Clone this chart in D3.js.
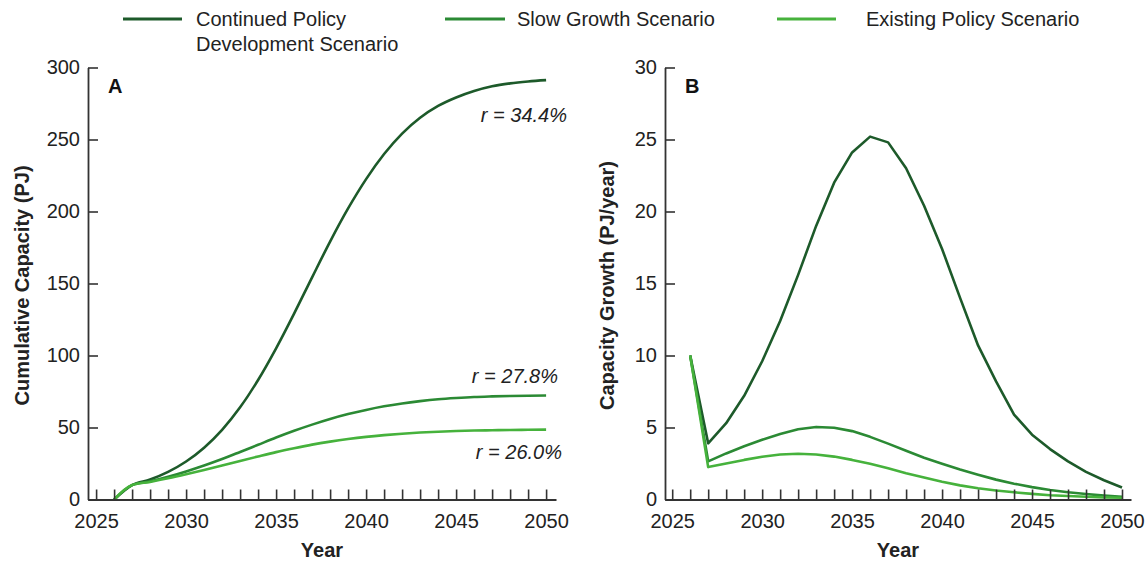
<!DOCTYPE html>
<html>
<head>
<meta charset="utf-8">
<script src="https://cdn.jsdelivr.net/npm/d3@7"></script>
<style>
  body { margin: 0; background: #fff; }
  svg { display: block; font-family: "Liberation Sans", Arial, Helvetica, sans-serif; }
</style>
</head>
<body>
<svg id="chart" width="1146" height="562"></svg>
<script>
// ---- data ----
const years = [2026, 2027, 2028, 2029, 2030, 2031, 2032, 2033, 2034, 2035, 2036, 2037, 2038,
               2039, 2040, 2041, 2042, 2043, 2044, 2045, 2046, 2047, 2048, 2049, 2050];

// Panel A: cumulative capacity (PJ)
const cumulativeCPD = [0, 10, 13.9, 19.2, 26.4, 36.0, 48.4, 64.0, 83.0, 105.0, 129.1, 154.3, 179.1,
                       202.1, 222.5, 239.9, 254.1, 265.1, 273.3, 279.2, 283.7, 287.0, 289.0, 290.3, 291.2];
const cumulativeSG  = [0, 10, 12.6, 15.8, 19.5, 23.6, 28.1, 33.0, 38.0, 43.0, 47.7, 52.0, 55.9,
                       59.3, 62.2, 64.7, 66.7, 68.3, 69.6, 70.5, 71.2, 71.6, 71.9, 72.1, 72.2];
const cumulativeEP  = [0, 10, 12.2, 14.7, 17.5, 20.5, 23.6, 26.8, 29.9, 32.9, 35.6, 38.1, 40.2,
                       42.0, 43.5, 44.7, 45.7, 46.5, 47.1, 47.6, 47.9, 48.1, 48.3, 48.4, 48.5];

// Panel B: capacity growth (PJ/year)
const growthCPD = [10, 3.9, 5.3, 7.2, 9.6, 12.4, 15.6, 19.0, 22.0, 24.1, 25.2, 24.8, 23.0,
                   20.4, 17.4, 14.0, 10.7, 8.2, 5.9, 4.5, 3.5, 2.65, 1.92, 1.34, 0.83];
const growthSG  = [10, 2.65, 3.2, 3.7, 4.15, 4.55, 4.88, 5.04, 4.98, 4.75, 4.35, 3.88, 3.38,
                   2.9, 2.48, 2.08, 1.72, 1.38, 1.1, 0.86, 0.66, 0.5, 0.38, 0.27, 0.18];
const growthEP  = [10, 2.25, 2.5, 2.75, 2.97, 3.12, 3.18, 3.12, 2.98, 2.75, 2.48, 2.17, 1.83,
                   1.52, 1.23, 0.98, 0.78, 0.62, 0.5, 0.39, 0.3, 0.24, 0.19, 0.15, 0.12];

const tickYears   = [2025, 2026, 2027, 2028, 2029, 2030, 2031, 2032, 2033, 2034, 2035, 2036, 2037,
                     2038, 2039, 2040, 2041, 2042, 2043, 2044, 2045, 2046, 2047, 2048, 2049, 2050];
const labelYears  = [2025, 2030, 2035, 2040, 2045, 2050];
const yTicksA     = [0, 50, 100, 150, 200, 250, 300];
const yTicksB     = [0, 5, 10, 15, 20, 25, 30];

const seriesNames = [["Continued Policy", "Development Scenario"], ["Slow Growth Scenario"], ["Existing Policy Scenario"]];
const seriesColors = ["#1d5a2a", "#2b8a34", "#46b23c"];
const rateLabels  = ["r = 34.4%", "r = 27.8%", "r = 26.0%"];

// ---- drawing ----
const svg = d3.select("#chart");
const axisColor = "#333";
const textColor = "#222";

function panel(opts) {
  const g = svg.append("g");
  const x = d3.scaleLinear().domain(opts.xDomain).range(opts.xRange);
  const y = d3.scaleLinear().domain(opts.yDomain).range(opts.yRange);

  // series lines
  opts.series.forEach((vals, i) => {
    const line = d3.line()
      .x((d, j) => x(years[j]))
      .y(d => y(d))
      .curve(opts.curve);
    g.append("path")
      .datum(vals)
      .attr("fill", "none")
      .attr("stroke", seriesColors[i])
      .attr("stroke-width", 2.6)
      .attr("stroke-linejoin", "round")
      .attr("d", line);
  });

  // x axis: inward yearly ticks, labels every five years
  const xAxis = d3.axisBottom(x)
    .tickValues(tickYears)
    .tickSizeInner(-10)
    .tickSizeOuter(0)
    .tickPadding(14)
    .tickFormat(d => labelYears.includes(d) ? String(d) : "");
  const gx = g.append("g")
    .attr("transform", `translate(0,${opts.yRange[0]})`)
    .call(xAxis);
  gx.select(".domain").attr("stroke", axisColor).attr("stroke-width", 1.8);
  gx.selectAll(".tick line").attr("stroke", axisColor).attr("stroke-width", 1.6);
  gx.selectAll(".tick text").attr("fill", textColor).style("font-size", "20px");

  // y axis: inward ticks
  const yAxis = d3.axisLeft(y)
    .tickValues(opts.yTicks)
    .tickSizeInner(-10)
    .tickSizeOuter(0)
    .tickPadding(8);
  const gy = g.append("g")
    .attr("transform", `translate(${opts.xRange[0]},0)`)
    .call(yAxis);
  gy.select(".domain").attr("stroke", axisColor).attr("stroke-width", 1.8);
  gy.selectAll(".tick line").attr("stroke", axisColor).attr("stroke-width", 1.6);
  gy.selectAll(".tick text").attr("fill", textColor).style("font-size", "20px");

  // axis titles
  const cx = (opts.xRange[0] + opts.xRange[1]) / 2;
  g.append("text")
    .attr("x", cx).attr("y", 557)
    .attr("text-anchor", "middle")
    .attr("font-weight", "bold")
    .attr("font-size", 20)
    .attr("fill", textColor)
    .text("Year");
  const cy = (opts.yRange[0] + opts.yRange[1]) / 2 + 2;
  g.append("text")
    .attr("transform", `translate(${opts.yTitleX},${cy}) rotate(-90)`)
    .attr("text-anchor", "middle")
    .attr("font-weight", "bold")
    .attr("font-size", 20)
    .attr("fill", textColor)
    .text(opts.yTitle);

  // panel letter
  g.append("text")
    .attr("x", opts.xRange[0] + 20).attr("y", 93)
    .attr("font-weight", "bold")
    .attr("font-size", 20)
    .attr("fill", "#111")
    .text(opts.letter);

  return { g, x, y };
}

const yTop = 67.5, yBottom = 499.5;

const A = panel({
  xDomain: [2024.55, 2050.55], xRange: [88, 556],
  yDomain: [0, 300], yRange: [yBottom, yTop], yTicks: yTicksA,
  series: [cumulativeCPD, cumulativeSG, cumulativeEP],
  curve: d3.curveMonotoneX,
  yTitle: "Cumulative Capacity (PJ)", yTitleX: 29, letter: "A"
});

const B = panel({
  xDomain: [2024.6, 2050.5], xRange: [665, 1131],
  yDomain: [0, 30], yRange: [yBottom, yTop], yTicks: yTicksB,
  series: [growthCPD, growthSG, growthEP],
  curve: d3.curveLinear,
  yTitle: "Capacity Growth (PJ/year)", yTitleX: 614, letter: "B"
});

// growth-rate annotations on panel A
const rateAnchors = [
  { x: 567, y: 122 },
  { x: 558, y: 383 },
  { x: 562, y: 459 }
];
rateLabels.forEach((t, i) => {
  A.g.append("text")
    .attr("x", rateAnchors[i].x).attr("y", rateAnchors[i].y)
    .attr("text-anchor", "end")
    .attr("font-style", "italic")
    .attr("font-size", 20)
    .attr("fill", textColor)
    .text(t);
});

// legend
const legendItems = [
  { x1: 123, x2: 182, tx: 196 },
  { x1: 445, x2: 505, tx: 517 },
  { x1: 777, x2: 836, tx: 866 }
];
const legend = svg.append("g");
legendItems.forEach((it, i) => {
  legend.append("line")
    .attr("x1", it.x1).attr("x2", it.x2)
    .attr("y1", 19).attr("y2", 19)
    .attr("stroke", seriesColors[i])
    .attr("stroke-width", 3);
  const t = legend.append("text")
    .attr("x", it.tx).attr("y", 26)
    .attr("font-size", 20)
    .attr("fill", textColor);
  seriesNames[i].forEach((line, k) => {
    t.append("tspan").attr("x", it.tx).attr("dy", k === 0 ? 0 : 25).text(line);
  });
});
</script>
</body>
</html>
